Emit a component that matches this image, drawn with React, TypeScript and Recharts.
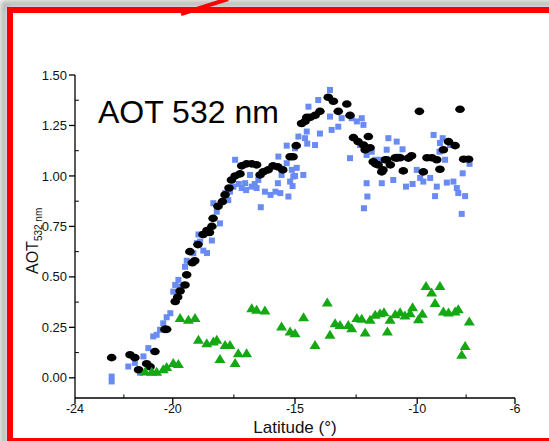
import React from 'react';
import { ScatterChart, Scatter, XAxis, YAxis, ReferenceLine } from 'recharts';

// ---- data (latitude in degrees, AOT at 532 nm) ----
const blackLat = [-22.5, -21.75, -21.55, -21.4, -21.07, -20.93, -20.73, -20.32, -20.25, -19.9, -19.8, -19.7, -19.5, -19.43, -19.3, -19.2, -19.1, -18.97, -18.76, -18.6, -18.5, -18.4, -18.35, -18.15, -17.97, -17.86, -17.7, -17.6, -17.45, -17.25, -17.18, -16.98, -16.77, -16.57, -16.43, -16.3, -16.1, -15.9, -15.7, -15.5, -15.2, -15.08, -14.95, -14.73, -14.59, -14.52, -14.38, -14.18, -13.98, -13.64, -13.43, -13.23, -12.88, -12.75, -12.61, -12.42, -12.2, -12.0, -12.13, -11.93, -11.8, -11.7, -11.6, -11.45, -11.4, -11.3, -11.25, -11.1, -10.9, -10.84, -10.7, -10.57, -10.36, -10.23, -9.91, -9.75, -9.6, -9.4, -9.2, -9.07, -8.93, -8.72, -8.45, -8.25, -8.1, -7.9];
const blackAot = [0.10, 0.114, 0.10, 0.04, 0.07, 0.055, 0.13, 0.24, 0.24, 0.378, 0.40, 0.43, 0.46, 0.51, 0.625, 0.57, 0.58, 0.66, 0.71, 0.73, 0.72, 0.75, 0.79, 0.85, 0.873, 0.906, 0.94, 0.98, 1.0, 1.01, 1.05, 1.06, 1.06, 1.055, 1.005, 1.02, 1.03, 1.05, 1.045, 1.03, 1.095, 1.095, 1.15, 1.26, 1.27, 1.29, 1.29, 1.30, 1.32, 1.39, 1.37, 1.32, 1.356, 1.30, 1.19, 1.17, 1.153, 1.195, 1.13, 1.14, 1.07, 1.06, 1.055, 1.02, 1.03, 1.08, 1.08, 1.055, 1.09, 1.088, 1.09, 1.025, 1.088, 1.10, 1.32, 1.02, 1.09, 1.09, 1.08, 1.033, 1.13, 1.17, 1.15, 1.33, 1.083, 1.083];

const blueLat = [-22.5, -22.5, -21.82, -21.55, -21.34, -21.2, -21.0, -20.8, -20.66, -20.52, -20.39, -20.25, -20.1, -19.98, -19.9, -19.77, -19.7, -19.5, -19.43, -19.16, -19.02, -18.95, -18.88, -18.75, -18.6, -18.4, -18.34, -18.2, -18.07, -17.86, -17.73, -17.66, -17.52, -17.45, -17.3, -17.18, -17.04, -17.0, -16.84, -16.77, -16.65, -16.57, -16.5, -16.4, -16.23, -16.0, -15.8, -15.7, -15.68, -15.6, -15.55, -15.34, -15.34, -15.27, -15.2, -15.13, -15.1, -15.07, -15.0, -15.0, -14.93, -14.86, -14.66, -14.59, -14.52, -14.5, -14.45, -14.18, -14.05, -13.98, -13.57, -13.57, -13.5, -13.23, -13.09, -12.75, -12.68, -12.47, -12.34, -12.27, -12.2, -12.18, -12.07, -12.07, -12.04, -11.86, -11.72, -11.52, -11.45, -11.25, -11.18, -10.98, -10.84, -10.77, -10.6, -10.46, -10.19, -10.02, -9.88, -9.75, -9.47, -9.33, -9.27, -9.2, -9.09, -9.07, -8.96, -8.86, -8.79, -8.66, -8.52, -8.38, -8.32, -8.18, -8.14, -8.04, -7.86];
const blueAot = [0.006, -0.018, 0.056, 0.074, 0.025, 0.106, 0.147, 0.205, 0.213, 0.238, 0.27, 0.30, 0.32, 0.427, 0.46, 0.485, 0.452, 0.55, 0.58, 0.617, 0.667, 0.71, 0.675, 0.63, 0.618, 0.68, 0.865, 0.823, 0.765, 0.915, 0.88, 0.922, 0.947, 1.08, 0.96, 0.94, 0.964, 0.93, 1.005, 0.947, 0.96, 0.94, 0.98, 0.845, 0.922, 0.906, 0.922, 0.964, 1.096, 0.915, 1.005, 1.063, 1.15, 0.898, 0.972, 1.03, 0.95, 0.997, 1.137, 1.0, 1.04, 1.195, 1.005, 1.187, 1.22, 1.16, 1.343, 1.153, 1.376, 1.21, 1.426, 1.294, 1.228, 1.244, 1.286, 1.088, 1.286, 1.27, 1.153, 1.286, 1.253, 0.84, 1.104, 0.964, 0.898, 1.12, 1.08, 1.08, 0.964, 1.13, 1.187, 0.98, 1.17, 1.096, 1.132, 0.947, 0.96, 1.03, 0.99, 0.972, 0.99, 1.203, 0.90, 0.947, 1.12, 1.163, 1.187, 1.08, 0.967, 1.153, 0.972, 0.94, 0.915, 0.812, 1.013, 0.90, 1.06];

const greenLat = [-21.13, -20.86, -20.66, -20.39, -20.25, -19.98, -19.77, -19.7, -19.36, -19.09, -18.95, -18.61, -18.34, -18.2, -18.07, -17.86, -17.66, -17.45, -17.32, -16.98, -16.77, -16.57, -16.23, -15.55, -15.2, -15.0, -14.65, -14.18, -13.68, -13.57, -13.36, -13.16, -12.82, -12.68, -12.47, -12.27, -12.13, -11.93, -11.72, -11.52, -11.36, -11.22, -11.11, -10.9, -10.7, -10.5, -10.29, -10.19, -9.95, -9.79, -9.64, -9.41, -9.27, -9.07, -8.93, -8.72, -8.45, -8.32, -8.18, -8.04, -7.87];
const greenAot = [0.031, 0.03, 0.03, 0.043, 0.053, 0.073, 0.068, 0.296, 0.287, 0.296, 0.188, 0.171, 0.18, 0.188, 0.093, 0.163, 0.163, 0.073, 0.122, 0.122, 0.345, 0.337, 0.333, 0.254, 0.229, 0.221, 0.30, 0.163, 0.373, 0.213, 0.27, 0.262, 0.262, 0.246, 0.296, 0.293, 0.225, 0.287, 0.312, 0.32, 0.325, 0.229, 0.287, 0.315, 0.325, 0.309, 0.32, 0.35, 0.29, 0.317, 0.455, 0.422, 0.37, 0.455, 0.328, 0.323, 0.328, 0.34, 0.114, 0.158, 0.279];

const xTicks = [-24, -20, -15, -10, -6];
const yTicks = [0, 0.25, 0.5, 0.75, 1.0, 1.25, 1.5];
const xMinor = [-22, -17.5, -12.5, -8];
const yMinor = [0.125, 0.375, 0.625, 0.875, 1.125, 1.375];

const toPoints = (xs: number[], ys: number[]) => xs.map((x, i) => ({ x, y: ys[i] }));
const blackData = toPoints(blackLat, blackAot);
const blueData = toPoints(blueLat, blueAot);
const greenData = toPoints(greenLat, greenAot);

const FONT = '"Liberation Sans", Arial, sans-serif';

const BlackDot = (p: any) => <ellipse cx={p.cx} cy={p.cy} rx={4.8} ry={3.8} fill="#000" />;
const BlueSq = (p: any) => <rect x={p.cx - 3} y={p.cy - 3} width={6} height={6} fill="#6a8cf2" />;
const GreenTri = (p: any) => (
  <polygon points={`${p.cx},${p.cy - 5} ${p.cx + 5.5},${p.cy + 4} ${p.cx - 5.5},${p.cy + 4}`} fill="#14a814" />
);

const YLabel = () => (
  <text x={38} y={274} transform="rotate(-90, 38, 274)" fontFamily={FONT} fill="#111">
    <tspan fontSize={16}>AOT</tspan>
    <tspan fontSize={10} dy={4}>532 nm</tspan>
  </text>
);

export default function App() {
  return (
    <div style={{ position: 'absolute', left: 0, top: 0, width: 549, height: 441, background: '#fff', overflow: 'hidden' }}>
      <ScatterChart width={549} height={441} margin={{ top: 75, right: 34, bottom: 0, left: 0 }}>
        <XAxis
          type="number"
          dataKey="x"
          domain={[-24, -6]}
          ticks={xTicks}
          allowDataOverflow
          height={43}
          tickSize={6}
          tickMargin={0}
          stroke="#000"
          strokeWidth={1.3}
          tick={{ fontSize: 12.5, fill: '#111', fontFamily: FONT }}
          label={{ value: 'Latitude (°)', position: 'insideBottom', offset: 8, fontSize: 17, fill: '#111', fontFamily: FONT }}
        />
        <YAxis
          type="number"
          dataKey="y"
          domain={[-0.1, 1.5]}
          ticks={yTicks}
          allowDataOverflow
          width={75}
          tickSize={6}
          tickMargin={2}
          stroke="#000"
          strokeWidth={1.3}
          tickFormatter={(v: number) => v.toFixed(2)}
          tick={{ fontSize: 13, fill: '#111', fontFamily: FONT }}
          label={<YLabel />}
        />
        {xMinor.map((v) => (
          <ReferenceLine key={'xm' + v} segment={[{ x: v, y: -0.1 }, { x: v, y: -0.082 }]} stroke="#000" strokeWidth={1} />
        ))}
        {yMinor.map((v) => (
          <ReferenceLine key={'ym' + v} segment={[{ x: -24, y: v }, { x: -23.84, y: v }]} stroke="#000" strokeWidth={1} />
        ))}
        <Scatter data={blueData} shape={BlueSq} isAnimationActive={false} />
        <Scatter data={blackData} shape={BlackDot} isAnimationActive={false} />
        <Scatter data={greenData} shape={GreenTri} isAnimationActive={false} />
      </ScatterChart>
      <svg width={549} height={441} style={{ position: 'absolute', left: 0, top: 0, pointerEvents: 'none' }}>
        <defs>
          <filter id="sh" x="-5%" y="-5%" width="110%" height="110%">
            <feGaussianBlur stdDeviation="3" />
          </filter>
        </defs>
        <rect x={4} y={4} width={560} height={450} fill="none" stroke="rgba(0,0,0,0.35)" strokeWidth={6} filter="url(#sh)" />
        <rect x={10} y={10} width={560} height={431} fill="none" stroke="#ff0000" strokeWidth={6} />
        <line x1={181} y1={14} x2={228} y2={-1} stroke="#ff0000" strokeWidth={4} />
        <text x={98} y={123} fontFamily={FONT} fontSize={32} fill="#000">AOT 532 nm</text>
      </svg>
    </div>
  );
}
